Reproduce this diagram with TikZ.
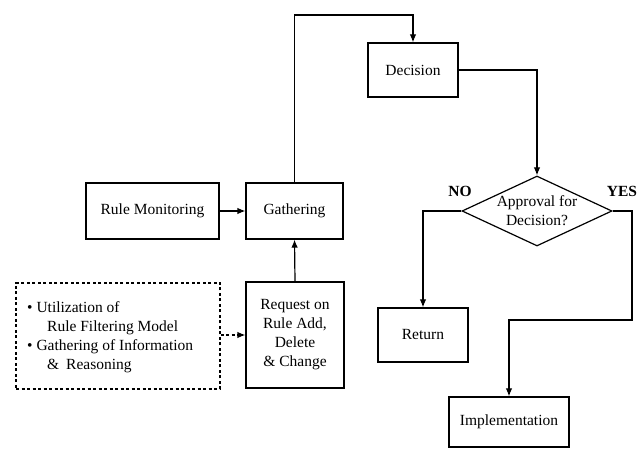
\documentclass[tikz,border=0pt]{standalone}
\usepackage{fontspec}
\setmainfont{Liberation Serif}
\usetikzlibrary{shapes.geometric,arrows.meta}
\begin{document}
\begin{tikzpicture}[x=1pt,y=-1pt,
  every node/.style={font=\fontsize{15.5}{19}\selectfont},
  box/.style={draw, line width=1.2pt, inner sep=0pt, align=center},
  dbox/.style={draw, line width=1.2pt, dash pattern=on 3pt off 2.5pt, inner sep=0pt},
  arr/.style={line width=1.2pt, -{Latex[length=8pt,width=6.5pt]}},
  darr/.style={arr, dash pattern=on 3pt off 2.5pt},
  lab/.style={font=\fontsize{15.5}{19}\selectfont\bfseries}]
\useasboundingbox (0,0) rectangle (641,449);

% nodes
\node[box, minimum width=133pt, minimum height=56pt] (rm) at (152.5,211) {Rule Monitoring};
\node[box, minimum width=97pt, minimum height=56pt] (gath) at (294.5,211) {Gathering};
\node[box, minimum width=98pt, minimum height=106pt] (req) at (295,335) {Request on\\Rule Add,\\Delete\\\& Change};
\node[dbox, minimum width=204pt, minimum height=106pt] (info) at (118,336) {};
\node[anchor=west, align=left, inner sep=0pt] (infotext) at (27,337)
  {• Utilization of\\\hspace*{20pt}Rule Filtering Model\\• Gathering of Information\\\hspace*{20pt}\&\hspace*{7pt}Reasoning};
\node[box, minimum width=90pt, minimum height=54pt] (dec) at (413,70) {Decision};
\node[draw, diamond, line width=1.2pt, inner sep=0pt, minimum width=150pt, minimum height=70pt] (appr) at (537,211) {};
\node[align=center, inner sep=0pt] (apprtext) at (537,211) {Approval for\\Decision?};
\node[box, minimum width=90pt, minimum height=54pt] (ret) at (423,335) {Return};
\node[box, minimum width=120pt, minimum height=50pt] (impl) at (509,422) {Implementation};
\node[lab] (no) at (460,191) {NO};
\node[lab] (yes) at (622,191) {YES};

\coordinate (t1) at (294.5,15);
\coordinate (t2) at (413,15);
\coordinate (d1) at (537,70);
\coordinate (n1) at (423,211);
\coordinate (y1) at (632,211);
\coordinate (y2) at (632,320);
\coordinate (y3) at (509,320);

% connectors
\draw[arr] (rm.east) -- (gath.west);
\draw[arr] (req.north) -- (gath.south);
\draw[darr] (info.east |- req.west) -- (req.west);
\draw[arr] (gath.north) -- (t1) -- (t2) -- (dec.north);
\draw[arr] (dec.east) -- (d1) -- (appr.north);
\draw[arr] (appr.west) -- (n1) -- (ret.north);
\draw[arr] (appr.east) -- (y1) -- (y2) -- (y3) -- (impl.north);
\end{tikzpicture}
\end{document}
